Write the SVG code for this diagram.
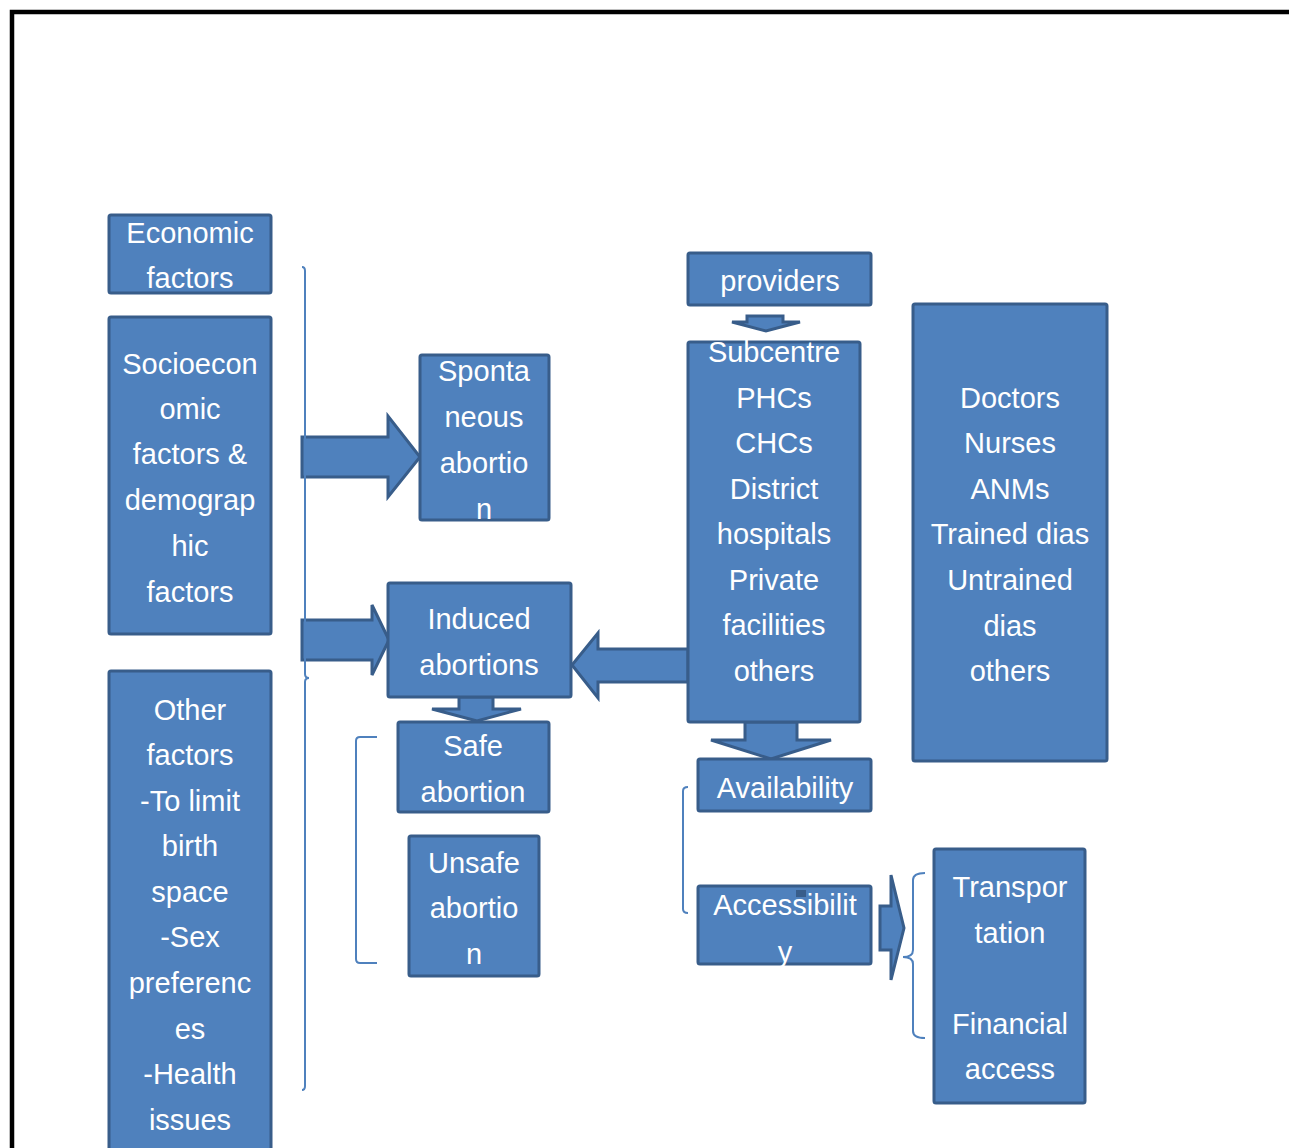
<svg xmlns="http://www.w3.org/2000/svg" width="1289" height="1148" viewBox="0 0 1289 1148">
<style>
.box{fill:#4F81BD;stroke:#385D8A;stroke-width:3}
.arr{fill:#4F81BD;stroke:#385D8A;stroke-width:3;stroke-linejoin:miter}
.br{fill:none;stroke:#4F81BD;stroke-width:2}
text{font-family:"Liberation Sans",Arial,sans-serif;font-size:29px;fill:#FFFFFF;text-anchor:middle}
</style>
<rect x="0" y="0" width="1289" height="1148" fill="#FFFFFF"/>
<rect x="12" y="12" width="1300" height="1200" fill="none" stroke="#000000" stroke-width="4.5"/>
<g id="connectors">
<polygon class="arr" points="302,437 388,437 388,416 420,457 388,497 388,477 302,477"/>
<polygon class="arr" points="302,620 372,620 372,605 389,640 372,675 372,660 302,660"/>
<polygon class="arr" points="688,649 598,649 598,633 572,665 598,698 598,682 688,682"/>
<polygon class="arr" points="747,316 783,316 783,322 800,322 766,331 732,322 747,322"/>
<polygon class="arr" points="745,722 797,722 797,740 831,740 771,759 711,740 745,740"/>
<polygon class="arr" points="459,697 493,697 493,709 521,709 477,721 432,709 459,709"/>
<polygon class="arr" points="880,906 891,906 891,875 904,928 891,980 891,950 880,950"/>
<path class="br" d="M302,267 Q305,267 305,271 L305,674 Q305,678 309,678 Q305,678 305,682 L305,1086 Q305,1090 302,1090"/>
<path class="br" d="M377,737 L360,737 Q356,737 356,741 L356,959 Q356,963 360,963 L377,963"/>
<path class="br" d="M688,787 Q683,787 683,791 L683,909 Q683,913 688,913"/>
<path class="br" d="M925,873 Q913,873 913,880 L913,950 Q913,957 903,957 Q913,957 913,964 L913,1031 Q913,1038 925,1038"/>
</g>
<g id="economic">
<rect class="box" x="109" y="215" width="162" height="78" rx="2"/>
<text x="190" y="243">Economic</text>
<text x="190" y="288">factors</text>
</g>
<g id="socioeconomic">
<rect class="box" x="109" y="317" width="162" height="317" rx="2"/>
<text x="190" y="374">Socioecon</text>
<text x="190" y="419">omic</text>
<text x="190" y="464">factors &amp;</text>
<text x="190" y="510">demograp</text>
<text x="190" y="556">hic</text>
<text x="190" y="602">factors</text>
</g>
<g id="other">
<rect class="box" x="109" y="671" width="162" height="500" rx="2"/>
<text x="190" y="720">Other</text>
<text x="190" y="765">factors</text>
<text x="190" y="811">-To limit</text>
<text x="190" y="856">birth</text>
<text x="190" y="902">space</text>
<text x="190" y="947">-Sex</text>
<text x="190" y="993">preferenc</text>
<text x="190" y="1039">es</text>
<text x="190" y="1084">-Health</text>
<text x="190" y="1130">issues</text>
</g>
<g id="spontaneous">
<rect class="box" x="420" y="355" width="129" height="165" rx="2"/>
<text x="484" y="381">Sponta</text>
<text x="484" y="427">neous</text>
<text x="484" y="473">abortio</text>
<text x="484" y="519">n</text>
</g>
<g id="induced">
<rect class="box" x="388" y="583" width="183" height="114" rx="2"/>
<text x="479" y="629">Induced</text>
<text x="479" y="675">abortions</text>
</g>
<g id="safe">
<rect class="box" x="398" y="722" width="151" height="90" rx="2"/>
<text x="473" y="756">Safe</text>
<text x="473" y="802">abortion</text>
</g>
<g id="unsafe">
<rect class="box" x="409" y="836" width="130" height="140" rx="2"/>
<text x="474" y="873">Unsafe</text>
<text x="474" y="918">abortio</text>
<text x="474" y="964">n</text>
</g>
<g id="providers">
<rect class="box" x="688" y="253" width="183" height="52" rx="2"/>
<text x="780" y="291">providers</text>
</g>
<g id="facilities">
<rect class="box" x="688" y="342" width="172" height="380" rx="2"/>
<text x="774" y="362">Subcentre</text>
<text x="774" y="408">PHCs</text>
<text x="774" y="453">CHCs</text>
<text x="774" y="499">District</text>
<text x="774" y="544">hospitals</text>
<text x="774" y="590">Private</text>
<text x="774" y="635">facilities</text>
<text x="774" y="681">others</text>
</g>
<g id="staff">
<rect class="box" x="913" y="304" width="194" height="457" rx="2"/>
<text x="1010" y="408">Doctors</text>
<text x="1010" y="453">Nurses</text>
<text x="1010" y="499">ANMs</text>
<text x="1010" y="544">Trained dias</text>
<text x="1010" y="590">Untrained</text>
<text x="1010" y="636">dias</text>
<text x="1010" y="681">others</text>
</g>
<g id="availability">
<rect class="box" x="698" y="759" width="173" height="52" rx="2"/>
<text x="785" y="798">Availability</text>
</g>
<g id="accessibility">
<rect class="box" x="698" y="886" width="173" height="78" rx="2"/>
<rect x="796" y="890" width="10" height="7" fill="#385D8A"/>
<text x="785" y="915">Accessibilit</text>
<text x="785" y="962">y</text>
</g>
<g id="transport">
<rect class="box" x="934" y="849" width="151" height="254" rx="2"/>
<text x="1010" y="897">Transpor</text>
<text x="1010" y="943">tation</text>
<text x="1010" y="1034">Financial</text>
<text x="1010" y="1079">access</text>
</g>
</svg>
